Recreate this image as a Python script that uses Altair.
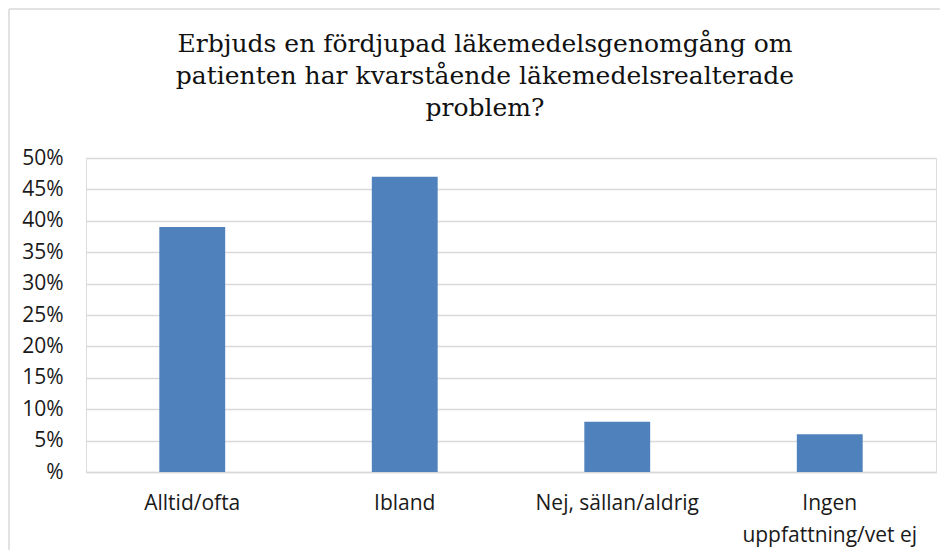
import altair as alt
import pandas as pd

categories = ["Alltid/ofta", "Ibland", "Nej, sällan/aldrig", "Ingen uppfattning/vet ej"]
values = [0.39, 0.47, 0.08, 0.06]
y_ticks = [0, 0.05, 0.10, 0.15, 0.20, 0.25, 0.30, 0.35, 0.40, 0.45, 0.50]
title_lines = [
    "Erbjuds en fördjupad läkemedelsgenomgång om",
    "patienten har kvarstående läkemedelsrealterade",
    "problem?",
]

df = pd.DataFrame({"kategori": categories, "andel": values})

LABEL_FONT = "Open Sans"

bars = alt.Chart(df).mark_bar(color="#4F81BD").encode(
    x=alt.X(
        "kategori:N",
        sort=categories,
        title=None,
        scale=alt.Scale(paddingInner=0.69, paddingOuter=0.345),
        axis=alt.Axis(
            labelAngle=0,
            ticks=False,
            domain=True,
            domainColor="#d9d9d9",
            domainWidth=1.5,
            labelFont=LABEL_FONT,
            labelFontSize=21,
            labelColor="#1a1a1a",
            labelPadding=20,
            labelLineHeight=32,
            labelExpr="datum.value == 'Ingen uppfattning/vet ej' ? ['Ingen', 'uppfattning/vet ej'] : datum.label",
        ),
    ),
    y=alt.Y(
        "andel:Q",
        title=None,
        scale=alt.Scale(domain=[0, 0.5], nice=False),
        axis=alt.Axis(
            values=y_ticks,
            ticks=False,
            domain=False,
            grid=True,
            gridColor="#d9d9d9",
            gridWidth=1.5,
            labelFont=LABEL_FONT,
            labelFontSize=21,
            labelColor="#1a1a1a",
            labelPadding=23,
            labelExpr="datum.value == 0 ? '%' : format(datum.value, '.0%')",
        ),
    ),
)

one = pd.DataFrame({"f": [0]})

title = alt.Chart(one).mark_text(
    font="DejaVu Serif",
    fontSize=25,
    color="#111111",
    align="center",
    baseline="alphabetic",
    lineHeight=32,
).encode(
    text=alt.value(title_lines),
    x=alt.value(399),
    y=alt.value(-106),
)

left_edge = alt.Chart(one).mark_rule(color="#d9d9d9", strokeWidth=1.5).encode(
    x=alt.value(-77), y=alt.value(-149), y2=alt.value(420)
)
top_edge = alt.Chart(one).mark_rule(color="#d9d9d9", strokeWidth=1.5).encode(
    x=alt.value(-77), x2=alt.value(870), y=alt.value(-149)
)

chart = alt.layer(left_edge, top_edge, title, bars).properties(
    width=850,
    height=314,
    padding={"left": 78, "top": 150, "right": 4, "bottom": 78},
    autosize=alt.AutoSizeParams(type="none"),
).configure_view(stroke=None).configure(background="white")

chart.save("out.html", embed_options={"renderer": "svg", "actions": False})
